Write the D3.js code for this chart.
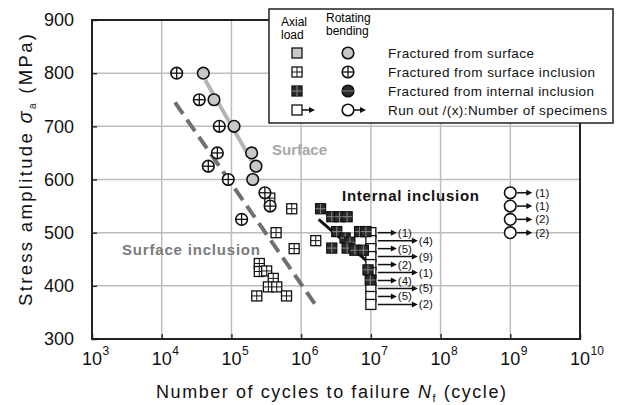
<!DOCTYPE html>
<html><head><meta charset="utf-8">
<script src="https://cdn.jsdelivr.net/npm/d3@7"></script>
<style>body{margin:0;background:#fff}svg{display:block}</style>
</head><body><svg id="c" width="623" height="405"></svg>
<script>
// ---- data ----
const xTickExps = [3,4,5,6,7,8,9,10];
const yTicks = [300,400,500,600,700,800,900];
// Rotating bending, fractured from surface (gray circles)
const rbSurfN = [3.95e4,5.62e4,1.09e5,1.95e5,2.25e5,2.02e5];
const rbSurfS = [800,750,700,650,625,600];
// Rotating bending, surface inclusion (crossed circles)
const rbSIncN = [1.64e4,3.46e4,6.7e4,6.28e4,4.66e4,9.0e4,1.40e5,3.02e5,3.59e5];
const rbSIncS = [800,750,700,650,625,600,525,575,550];
// Axial, surface inclusion (crossed squares)
const axSIncN = [3.55e5,7.33e5,4.37e5,7.94e5,1.62e6,2.51e5,2.51e5,3.2e5,3.98e5,3.39e5,4.47e5,2.31e5,6.17e5];
const axSIncS = [565,545,500,470,485,442,427,428,414,398,398,381,381];
// Axial, internal inclusion (dark squares)
const axIIncN = [1.9e6,2.75e6,3.55e6,4.57e6,3.24e6,4.27e6,5.0e6,2.75e6,4.57e6,5.9e6,6.9e6,8.5e6,7.8e6,9.1e6,9.8e6];
const axIIncS = [545,530,530,530,502,490,482,471,471,467,502,502,467,430,411];
// Axial run-outs at 1e7
const axRunN = 1e7;
const axRunS = [500,485,470,455,440,425,410,395,380,365];
const axRunCount = [1,4,5,9,2,1,4,5,5,2];
// Rotating bending run-outs at 1e9
const rbRunN = 1e9;
const rbRunS = [575,550,525,500];
const rbRunCount = [1,1,2,2];
// Trend lines [N, S]
const surfLine = [[4.2e4,787],[2.33e5,618]];
const sIncLine = [[1.55e4,745],[1.67e6,361]];
const iIncLine = [[1.78e6,525],[8.7e6,447]];
const legendLabels = ["Fractured from surface","Fractured from surface inclusion","Fractured from internal inclusion","Run out /(x):Number of specimens"];

// ---- drawing ----
const svg = d3.select("#c");
const x = d3.scaleLog().domain([1e3,1e10]).range([92,580]);
const y = d3.scaleLinear().domain([300,900]).range([339,20]);
const F = "Liberation Sans, Arial, sans-serif";

// grid
const g = svg.append("g");
g.selectAll(".vg").data(xTickExps.slice(1,-1)).join("line")
  .attr("x1",d=>x(Math.pow(10,d))).attr("x2",d=>x(Math.pow(10,d)))
  .attr("y1",y(300)).attr("y2",y(900)).attr("stroke","#bdbdbd").attr("stroke-width",1.5);
g.selectAll(".hg").data(yTicks.slice(1,-1)).join("line")
  .attr("x1",x(1e3)).attr("x2",x(1e10))
  .attr("y1",d=>y(d)).attr("y2",d=>y(d)).attr("stroke","#bdbdbd").attr("stroke-width",1.5);

// axes
const xa = svg.append("g").attr("transform",`translate(0,${y(300)})`)
  .call(d3.axisBottom(x).tickValues(xTickExps.map(e=>Math.pow(10,e))).tickSize(-5).tickFormat(""));
const ya = svg.append("g").attr("transform",`translate(${x(1e3)},0)`)
  .call(d3.axisLeft(y).tickValues(yTicks).tickSize(-5).tickPadding(18));
[xa,ya].forEach(a=>{a.select(".domain").remove(); a.selectAll(".tick line").attr("stroke","#333").attr("stroke-width",1.5);});
ya.selectAll(".tick text").attr("font-family",F).attr("font-size",18).attr("fill","#111");
// frame
svg.append("rect").attr("x",x(1e3)).attr("y",y(900)).attr("width",x(1e10)-x(1e3)).attr("height",y(300)-y(900))
  .attr("fill","none").attr("stroke","#222").attr("stroke-width",2);
// x tick labels 10^n
const xl = svg.append("g");
xTickExps.forEach(e=>{
  const px = x(Math.pow(10,e));
  xl.append("text").attr("x",px).attr("y",365).attr("text-anchor","middle").attr("font-family",F).attr("font-size",18).attr("fill","#111").text("10");
  xl.append("text").attr("x",px+10.5).attr("y",355).attr("font-family",F).attr("font-size",12).attr("fill","#111").text(e);
});
// axis titles
const xt = svg.append("text").attr("x",331).attr("y",398).attr("text-anchor","middle").attr("font-family",F).attr("font-size",18).attr("fill","#111")
  .attr("textLength",350).attr("lengthAdjust","spacing");
xt.append("tspan").text("Number of cycles to failure ");
xt.append("tspan").attr("font-style","italic").text("N");
xt.append("tspan").attr("font-size",11).attr("dy",4).text("f");
xt.append("tspan").attr("dy",-4).text(" (cycle)");
const yt = svg.append("text").attr("transform","translate(32,170) rotate(-90)").attr("text-anchor","middle").attr("font-family",F).attr("font-size",18.5).attr("fill","#111")
  .attr("textLength",272).attr("lengthAdjust","spacing");
yt.append("tspan").text("Stress amplitude  ");
yt.append("tspan").attr("font-style","italic").attr("font-size",20).text("σ");
yt.append("tspan").attr("font-size",10).attr("dy",4).text("a");
yt.append("tspan").attr("dy",-4).text(" (MPa)");

// trend lines
const line = d3.line().x(d=>x(d[0])).y(d=>y(d[1]));
svg.append("path").attr("d",line(surfLine)).attr("stroke","#b4b4b4").attr("stroke-width",4).attr("fill","none");
svg.append("path").attr("d",line(sIncLine)).attr("stroke","#707070").attr("stroke-width",4).attr("stroke-dasharray","14,7").attr("fill","none");
svg.append("path").attr("d",line(iIncLine)).attr("stroke","#111").attr("stroke-width",3).attr("fill","none");

// marker helpers
const H = 5;   // half square size
const R = 5.8; // circle radius
function sq(sel, px, py, type){
  const fill = type==="dark"?"#2b2b2b":(type==="gray"?"#c8c8c8":"#fff");
  sel.append("rect").attr("x",px-H).attr("y",py-H).attr("width",2*H).attr("height",2*H)
    .attr("fill",fill).attr("stroke","#111").attr("stroke-width",1.3);
  if(type==="cross"||type==="dark"){
    const c = type==="dark"?"#888":"#111";
    sel.append("line").attr("x1",px-H).attr("x2",px+H).attr("y1",py).attr("y2",py).attr("stroke",c).attr("stroke-width",1);
    sel.append("line").attr("x1",px).attr("x2",px).attr("y1",py-H).attr("y2",py+H).attr("stroke",c).attr("stroke-width",1);
  }
}
function circ(sel, px, py, type){
  const fill = type==="dark"?"#2b2b2b":(type==="gray"?"#c8c8c8":"#fff");
  sel.append("circle").attr("cx",px).attr("cy",py).attr("r",R).attr("fill",fill).attr("stroke","#111").attr("stroke-width",1.6);
  if(type==="cross"){
    sel.append("line").attr("x1",px-R).attr("x2",px+R).attr("y1",py).attr("y2",py).attr("stroke","#111").attr("stroke-width",1.3);
    sel.append("line").attr("x1",px).attr("x2",px).attr("y1",py-R).attr("y2",py+R).attr("stroke","#111").attr("stroke-width",1.3);
  }
  if(type==="dark"){
    sel.append("line").attr("x1",px-R).attr("x2",px+R).attr("y1",py).attr("y2",py).attr("stroke","#888").attr("stroke-width",1);
  }
}
function arrow(sel, x1, x2, py){
  sel.append("line").attr("x1",x1).attr("x2",x2-5).attr("y1",py).attr("y2",py).attr("stroke","#111").attr("stroke-width",1.5);
  sel.append("path").attr("d",`M${x2},${py}L${x2-6},${py-3}L${x2-6},${py+3}Z`).attr("fill","#111");
}

const m = svg.append("g");
// run-out squares
const runG = m.append("g");
axRunS.forEach((s,i)=>{
  sq(runG, x(axRunN), y(s), "open");
});
axRunS.forEach((s,i)=>{
  const px = x(axRunN), py = y(s);
  const end = px + (i%2===0 ? 26 : 47);
  arrow(runG, px+H+2, end, py);
  runG.append("text").attr("x",end+1).attr("y",py+4).attr("font-family",F).attr("font-size",11.5).attr("fill","#111").text(`(${axRunCount[i]})`);
});
// surface inclusion squares
axSIncN.forEach((n,i)=>sq(m, x(n), y(axSIncS[i]), "cross"));
// internal inclusion squares
axIIncN.forEach((n,i)=>sq(m, x(n), y(axIIncS[i]), "dark"));
// circles
rbSurfN.forEach((n,i)=>circ(m, x(n), y(rbSurfS[i]), "gray"));
rbSIncN.forEach((n,i)=>circ(m, x(n), y(rbSIncS[i]), "cross"));
rbRunS.forEach((s,i)=>{
  const px = x(rbRunN), py = y(s);
  circ(m, px, py, "open");
  arrow(m, px+R+1, px+22, py);
  m.append("text").attr("x",px+25).attr("y",py+4).attr("font-family",F).attr("font-size",11.5).attr("fill","#111").text(`(${rbRunCount[i]})`);
});

// annotations
svg.append("text").attr("x",272).attr("y",155).attr("font-family",F).attr("font-weight","bold").attr("font-size",15).attr("fill","#a8a8a8").text("Surface");
svg.append("text").attr("x",122).attr("y",255).attr("font-family",F).attr("font-weight","bold").attr("font-size",15).attr("fill","#7a7a7a").attr("textLength",138).text("Surface inclusion");
svg.append("text").attr("x",342).attr("y",201).attr("font-family",F).attr("font-weight","bold").attr("font-size",15).attr("fill","#111").attr("textLength",137).text("Internal inclusion");

// legend
const L = svg.append("g");
L.append("rect").attr("x",269).attr("y",9).attr("width",344).attr("height",114).attr("fill","#fff").attr("stroke","#222").attr("stroke-width",1.5);
const lf = 12;
L.append("text").attr("x",281).attr("y",26).attr("font-family",F).attr("font-size",lf).text("Axial");
L.append("text").attr("x",281).attr("y",39).attr("font-family",F).attr("font-size",lf).text("load");
L.append("text").attr("x",326).attr("y",22).attr("font-family",F).attr("font-size",lf).text("Rotating");
L.append("text").attr("x",326).attr("y",35).attr("font-family",F).attr("font-size",lf).text("bending");
const rowY = [53,72,91,110];
const types = ["gray","cross","dark","open"];
const legendW = [146,207,206,219];
legendLabels.forEach((t,i)=>{
  sq(L, 297, rowY[i], types[i]);
  circ(L, 348, rowY[i], types[i]);
  L.append("text").attr("x",388).attr("y",rowY[i]+5).attr("font-family",F).attr("font-size",13.5).attr("fill","#111")
    .attr("textLength",legendW[i]).attr("lengthAdjust","spacing").text(t);
});
arrow(L, 302, 315, rowY[3]);
arrow(L, 354, 366, rowY[3]);
</script></body></html>
